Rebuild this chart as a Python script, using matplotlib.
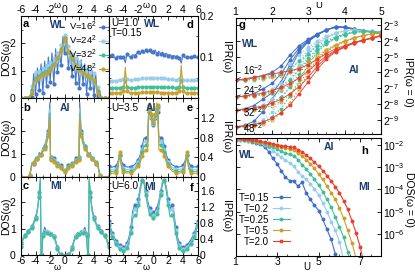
import numpy as np
import matplotlib
matplotlib.use("Agg")
import matplotlib.pyplot as plt
from matplotlib.ticker import (MultipleLocator, FixedLocator, FuncFormatter,
                               LogFormatterMathtext, LogLocator, NullLocator)

plt.rcParams.update({
    "font.family": ["Liberation Sans", "DejaVu Sans"],
    "font.size": 7.5,
    "mathtext.fontset": "custom",
    "mathtext.rm": "Liberation Sans",
    "mathtext.it": "Liberation Sans:italic",
    "mathtext.bf": "Liberation Sans:bold",
    "axes.linewidth": 0.8,
    "xtick.direction": "in",
    "ytick.direction": "in",
    "xtick.major.size": 3,
    "ytick.major.size": 3,
    "xtick.minor.size": 1.5,
    "ytick.minor.size": 1.5,
    "xtick.major.width": 0.6,
    "ytick.major.width": 0.6,
    "xtick.minor.width": 0.5,
    "ytick.minor.width": 0.5,
    "xtick.major.pad": 1.0,
    "ytick.major.pad": 1.5,
    "xtick.labelsize": 7.5,
    "ytick.labelsize": 7.5,
})

# ---------------- data: DOS / IPR vs omega ----------------
w_a = np.arange(-6, 6.01, 0.25)

a_v16 = [0, 0, 0, 0,
         0, 0.1, 0.05, 0.9,
         0.15, 1.1, 0.3, 1.25,
         0.2, 1.35, 0.45, 1.5,
         0.6, 1.65, 0.5, 1.8,
         0.95, 1.7, 1.2, 2.25,
         1.65, 2.3, 1.1, 1.75,
         0.8, 1.6, 0.55, 1.55,
         0.35, 1.4, 0.5, 1.25,
         0.15, 1.15, 0.35, 1.0,
         0.1, 0.85, 0.05, 0.3,
         0, 0, 0, 0,
         0]
a_v24 = [0, 0, 0, 0,
         0, 0.08, 0.45, 0.4,
         0.95, 0.55, 1.0, 0.62,
         1.1, 0.7, 1.2, 0.8,
         1.3, 0.9, 1.45, 1.1,
         1.65, 1.3, 1.95, 1.7,
         2.3, 1.75, 1.9, 1.35,
         1.6, 1.05, 1.45, 0.9,
         1.3, 0.78, 1.15, 0.7,
         1.05, 0.6, 0.95, 0.55,
         0.9, 0.35, 0.4, 0.05,
         0, 0, 0, 0,
         0]
a_v32 = [0, 0, 0, 0,
         0, 0.05, 0.3, 0.6,
         0.72, 0.7, 0.82, 0.78,
         0.9, 0.86, 0.98, 0.95,
         1.1, 1.08, 1.25, 1.3,
         1.45, 1.55, 1.78, 1.88,
         2.2, 1.95, 1.7, 1.62,
         1.42, 1.38, 1.2, 1.15,
         1.02, 1.05, 0.9, 0.92,
         0.8, 0.84, 0.74, 0.76,
         0.64, 0.58, 0.25, 0.04,
         0, 0, 0, 0,
         0]
a_v48 = [0, 0, 0, 0,
         0, 0.02, 0.2, 0.55,
         0.66, 0.72, 0.76, 0.8,
         0.84, 0.88, 0.93, 0.98,
         1.04, 1.1, 1.22, 1.33,
         1.45, 1.58, 1.72, 1.9,
         2.15, 1.9, 1.72, 1.58,
         1.45, 1.33, 1.22, 1.1,
         1.04, 0.98, 0.93, 0.88,
         0.84, 0.8, 0.76, 0.72,
         0.66, 0.55, 0.2, 0.02,
         0, 0, 0, 0,
         0]

w_b = [-6, -5, -4.8, -4.5, -4.25, -4, -3.75, -3.5, -3.25, -3, -2.75, -2.5,
       -2.25, -2.05, -1.95, -1.75, -1.5, -1.25, -1, -0.75, -0.5, -0.25,
       0,
       0.25, 0.5, 0.75, 1, 1.25, 1.5, 1.75, 1.95, 2.05, 2.25, 2.5, 2.75,
       3, 3.25, 3.5, 3.75, 4, 4.25, 4.5, 4.8, 5, 6]
b_v16 = [0, 0, 0.1, 0.62, 0.58, 0.85, 0.78, 1.05, 0.95, 1.25, 1.35, 1.65,
         2.0, 3.2, 0.85, 0.72, 0.8, 0.6, 0.6, 0.55, 0.5, 0.3,
         0.32,
         0.3, 0.5, 0.55, 0.6, 0.6, 0.8, 0.72, 0.85, 3.2, 2.0, 1.65, 1.35,
         1.25, 0.95, 1.05, 0.78, 0.85, 0.58, 0.62, 0.1, 0, 0]
b_v24 = [0, 0, 0.08, 0.58, 0.62, 0.8, 0.8, 0.98, 0.98, 1.2, 1.3, 1.6,
         1.9, 2.95, 0.8, 0.74, 0.74, 0.62, 0.55, 0.58, 0.45, 0.32,
         0.28,
         0.32, 0.45, 0.58, 0.55, 0.62, 0.74, 0.74, 0.8, 2.95, 1.9, 1.6, 1.3,
         1.2, 0.98, 0.98, 0.8, 0.8, 0.62, 0.58, 0.08, 0, 0]
b_v32 = [0, 0, 0.06, 0.55, 0.65, 0.74, 0.82, 0.9, 1.0, 1.12, 1.28, 1.5,
         1.85, 2.75, 0.76, 0.73, 0.7, 0.62, 0.5, 0.56, 0.42, 0.3,
         0.25,
         0.3, 0.42, 0.56, 0.5, 0.62, 0.7, 0.73, 0.76, 2.75, 1.85, 1.5, 1.28,
         1.12, 1.0, 0.9, 0.82, 0.74, 0.65, 0.55, 0.06, 0, 0]
b_v48 = [0, 0, 0.05, 0.5, 0.62, 0.7, 0.78, 0.86, 0.95, 1.08, 1.22, 1.42,
         1.75, 2.55, 0.72, 0.7, 0.66, 0.58, 0.46, 0.52, 0.38, 0.26,
         0.22,
         0.26, 0.38, 0.52, 0.46, 0.58, 0.66, 0.7, 0.72, 2.55, 1.75, 1.42, 1.22,
         1.08, 0.95, 0.86, 0.78, 0.7, 0.62, 0.5, 0.05, 0, 0]

w_c = [-6, -5.75, -5.5, -5.25, -5, -4.75, -4.5, -4.25, -4, -3.75, -3.5, -3.35,
       -3.25, -3.15, -3.0, -2.75, -2.5, -2.25, -2, -1.75, -1.5, -1.25, -1,
       -0.75, -0.5,
       0,
       0.5, 0.75, 1, 1.25, 1.5, 1.75, 2, 2.25, 2.5, 2.75, 3.0, 3.15, 3.25,
       3.35, 3.5, 3.75, 4, 4.25, 4.5, 4.75, 5, 5.25, 5.5, 5.75, 6]
c_v16 = [0.4, 0.62, 0.75, 0.82, 0.92, 1.0, 1.08, 1.25, 1.45, 1.75, 2.2, 2.8,
         0.0, 0.0, 0.8, 1.05, 0.88, 0.92, 0.8, 0.85, 0.72, 0.55, 0.3, 0.1, 0.02,
         0.0,
         0.02, 0.1, 0.3, 0.55, 0.72, 0.85, 0.8, 0.92, 0.88, 1.05, 0.8, 0.0, 0.0,
         2.8, 2.2, 1.75, 1.45, 1.25, 1.08, 1.0, 0.92, 0.82, 0.75, 0.62, 0.4]
c_v24 = [0.35, 0.58, 0.72, 0.8, 0.88, 0.97, 1.05, 1.2, 1.4, 1.7, 2.3, 2.85,
         0.0, 0.0, 0.75, 0.95, 0.9, 0.85, 0.82, 0.8, 0.7, 0.5, 0.25, 0.07, 0.01,
         0.0,
         0.01, 0.07, 0.25, 0.5, 0.7, 0.8, 0.82, 0.85, 0.9, 0.95, 0.75, 0.0, 0.0,
         2.85, 2.3, 1.7, 1.4, 1.2, 1.05, 0.97, 0.88, 0.8, 0.72, 0.58, 0.35]
c_v32 = [0.3, 0.55, 0.7, 0.78, 0.86, 0.95, 1.02, 1.18, 1.38, 1.65, 2.4, 2.9,
         0.0, 0.0, 0.7, 0.9, 0.85, 0.82, 0.8, 0.78, 0.68, 0.48, 0.22, 0.05, 0.0,
         0.0,
         0.0, 0.05, 0.22, 0.48, 0.68, 0.78, 0.8, 0.82, 0.85, 0.9, 0.7, 0.0, 0.0,
         2.9, 2.4, 1.65, 1.38, 1.18, 1.02, 0.95, 0.86, 0.78, 0.7, 0.55, 0.3]

d_v16 = [0.102, 0.098, 0.104, 0.1,
         0.097, 0.103, 0.099, 0.095,
         0.1, 0.086, 0.108, 0.102,
         0.1, 0.106, 0.103, 0.108,
         0.112, 0.106, 0.115, 0.108,
         0.116, 0.11, 0.118, 0.109,
         0.113, 0.117, 0.108, 0.114,
         0.107, 0.112, 0.105, 0.109,
         0.103, 0.106, 0.101, 0.104,
         0.1, 0.103, 0.098, 0.085,
         0.106, 0.098, 0.1, 0.097,
         0.101, 0.099, 0.102, 0.098,
         0.1]
d_v24 = [0.042, 0.043, 0.041, 0.043,
         0.042, 0.044, 0.043, 0.045,
         0.046, 0.056, 0.046, 0.044,
         0.045, 0.044, 0.046, 0.045,
         0.047, 0.046, 0.048, 0.047,
         0.049, 0.048, 0.05, 0.049,
         0.05, 0.049, 0.05, 0.048,
         0.049, 0.047, 0.048, 0.046,
         0.047, 0.045, 0.046, 0.044,
         0.045, 0.044, 0.046, 0.057,
         0.045, 0.043, 0.044, 0.042,
         0.043, 0.042, 0.043, 0.042,
         0.043]
d_v32 = [0.024, 0.025, 0.024, 0.025,
         0.024, 0.025, 0.025, 0.026,
         0.027, 0.042, 0.027, 0.025,
         0.025, 0.026, 0.025, 0.026,
         0.026, 0.027, 0.026, 0.027,
         0.027, 0.028, 0.027, 0.028,
         0.028, 0.027, 0.028, 0.027,
         0.027, 0.026, 0.027, 0.026,
         0.026, 0.025, 0.026, 0.025,
         0.025, 0.026, 0.027, 0.045,
         0.027, 0.025, 0.024, 0.025,
         0.024, 0.025, 0.024, 0.025,
         0.024]
d_v48 = [0.012, 0.012, 0.013, 0.012,
         0.012, 0.013, 0.012, 0.014,
         0.018, 0.075, 0.016, 0.013,
         0.012, 0.013, 0.012, 0.013,
         0.013, 0.013, 0.014, 0.013,
         0.014, 0.014, 0.014, 0.015,
         0.014, 0.015, 0.014, 0.014,
         0.013, 0.014, 0.013, 0.013,
         0.013, 0.012, 0.013, 0.012,
         0.013, 0.012, 0.016, 0.08,
         0.018, 0.013, 0.012, 0.012,
         0.013, 0.012, 0.012, 0.013,
         0.012]

w_e = [-6, -5.5, -5, -4.75, -4.5, -4.25, -4, -3.5, -3, -2.5, -2, -1.75, -1.5,
       -1.25, -1, -0.75, -0.6, -0.45, -0.3, -0.15,
       0,
       0.15, 0.3, 0.45, 0.6, 0.75, 1, 1.25, 1.5, 1.75, 2, 2.5, 3, 3.5, 4,
       4.25, 4.5, 4.75, 5, 5.5, 6]
e_v16 = [0.22, 0.2, 0.22, 0.3, 0.45, 0.32, 0.24, 0.2, 0.21, 0.25, 0.35, 0.45,
         0.62, 0.78, 0.8, 0.82, 1.32, 1.38, 1.2, 1.1,
         1.05,
         1.1, 1.2, 1.38, 1.32, 0.82, 0.8, 0.78, 0.62, 0.45, 0.35, 0.25, 0.21,
         0.2, 0.24, 0.32, 0.45, 0.3, 0.22, 0.2, 0.22]
e_v24 = [0.16, 0.15, 0.17, 0.24, 0.42, 0.26, 0.18, 0.15, 0.16, 0.2, 0.3, 0.4,
         0.55, 0.7, 0.72, 0.74, 1.38, 1.42, 1.22, 1.12,
         1.08,
         1.12, 1.22, 1.42, 1.38, 0.74, 0.72, 0.7, 0.55, 0.4, 0.3, 0.2, 0.16,
         0.15, 0.18, 0.26, 0.42, 0.24, 0.17, 0.15, 0.16]
e_v32 = [0.12, 0.11, 0.13, 0.2, 0.44, 0.22, 0.14, 0.11, 0.12, 0.16, 0.26, 0.35,
         0.5, 0.62, 0.65, 0.66, 1.42, 1.45, 1.25, 1.15,
         1.1,
         1.15, 1.25, 1.45, 1.42, 0.66, 0.65, 0.62, 0.5, 0.35, 0.26, 0.16, 0.12,
         0.11, 0.14, 0.22, 0.44, 0.2, 0.13, 0.11, 0.12]
e_v48 = [0.08, 0.07, 0.09, 0.16, 0.5, 0.18, 0.1, 0.08, 0.09, 0.12, 0.22, 0.3,
         0.42, 0.52, 0.55, 0.55, 1.45, 1.5, 1.28, 1.18,
         1.12,
         1.18, 1.28, 1.5, 1.45, 0.55, 0.55, 0.52, 0.42, 0.3, 0.22, 0.12, 0.09,
         0.08, 0.1, 0.18, 0.5, 0.16, 0.09, 0.07, 0.08]

f_v16 = [0.85, 0.7, 0.55, 0.45,
         0.36, 0.3, 0.25, 0.21,
         0.2, 0.22, 0.3, 0.45,
         0.7, 1.1, 1.25, 1.15,
         1.4, 1.7, 1.88, 1.85,
         1.6, 1.35, 1.18, 1.1,
         1.07, 1.1, 1.18, 1.35,
         1.6, 1.85, 1.88, 1.7,
         1.4, 1.15, 1.25, 1.1,
         0.7, 0.45, 0.3, 0.22,
         0.2, 0.21, 0.25, 0.3,
         0.36, 0.45, 0.55, 0.7,
         0.85]
f_v24 = [0.8, 0.64, 0.5, 0.4,
         0.31, 0.25, 0.2, 0.16,
         0.15, 0.17, 0.24, 0.38,
         0.62, 1.0, 1.15, 1.08,
         1.32, 1.65, 1.86, 1.82,
         1.55, 1.28, 1.1, 1.02,
         0.99, 1.02, 1.1, 1.28,
         1.55, 1.82, 1.86, 1.65,
         1.32, 1.08, 1.15, 1.0,
         0.62, 0.38, 0.24, 0.17,
         0.15, 0.16, 0.2, 0.25,
         0.31, 0.4, 0.5, 0.64,
         0.8]
f_v32 = [0.75, 0.6, 0.46, 0.36,
         0.27, 0.2, 0.15, 0.11,
         0.09, 0.11, 0.18, 0.32,
         0.56, 0.9, 1.0, 0.95,
         1.25, 1.6, 1.84, 1.8,
         1.5, 1.22, 1.03, 0.95,
         0.92, 0.95, 1.03, 1.22,
         1.5, 1.8, 1.84, 1.6,
         1.25, 0.95, 1.0, 0.9,
         0.56, 0.32, 0.18, 0.11,
         0.09, 0.11, 0.15, 0.2,
         0.27, 0.36, 0.46, 0.6,
         0.75]

v_labels = ["V=16$^2$", "V=24$^2$", "V=32$^2$", "V=48$^2$"]

# ---------------- data: IPR(w=0) vs U (log2 values) ----------------
u_g = [1.0, 1.25, 1.5, 1.75, 2.0, 2.25, 2.5, 2.75, 3.0, 3.25, 3.5, 3.75,
       4.0, 4.25, 4.5, 4.75, 5.0]
g015_16 = [-6.5, -6.45, -6.35, -6.2, -6.0, -5.6, -4.9, -4.3, -3.9, -3.55, -3.3, -3.15, -3.15, -3.25, -3.35, -3.4, -3.45]
g015_24 = [-7.55, -7.5, -7.35, -7.05, -6.7, -6.1, -5.2, -4.45, -3.95, -3.6, -3.3, -3.12, -3.15, -3.25, -3.35, -3.42, -3.5]
g015_32 = [-8.4, -8.3, -8.1, -7.7, -7.3, -6.6, -5.5, -4.6, -4.0, -3.6, -3.3, -3.1, -3.15, -3.25, -3.35, -3.45, -3.5]
g015_48 = [-9.45, -9.35, -9.1, -8.5, -7.7, -6.9, -5.8, -4.7, -4.05, -3.62, -3.32, -3.1, -3.12, -3.22, -3.35, -3.45, -3.55]
g02_16 = [-6.5, -6.45, -6.4, -6.3, -6.15, -5.9, -5.45, -4.9, -4.4, -4.0, -3.7, -3.5, -3.35, -3.3, -3.35, -3.4, -3.45]
g02_24 = [-7.55, -7.5, -7.45, -7.3, -7.05, -6.65, -6.0, -5.2, -4.6, -4.1, -3.75, -3.5, -3.35, -3.3, -3.35, -3.42, -3.5]
g02_32 = [-8.4, -8.35, -8.25, -8.05, -7.7, -7.2, -6.4, -5.5, -4.75, -4.2, -3.8, -3.52, -3.35, -3.3, -3.35, -3.42, -3.5]
g02_48 = [-9.45, -9.4, -9.25, -9.0, -8.5, -7.8, -6.8, -5.7, -4.85, -4.25, -3.82, -3.53, -3.36, -3.3, -3.36, -3.45, -3.52]
g025_16 = [-6.5, -6.47, -6.42, -6.35, -6.25, -6.05, -5.75, -5.3, -4.8, -4.35, -4.0, -3.75, -3.55, -3.45, -3.4, -3.42, -3.45]
g025_24 = [-7.55, -7.52, -7.48, -7.38, -7.2, -6.9, -6.45, -5.8, -5.1, -4.5, -4.1, -3.8, -3.58, -3.45, -3.4, -3.42, -3.48]
g025_32 = [-8.4, -8.38, -8.32, -8.2, -7.95, -7.55, -6.95, -6.1, -5.3, -4.6, -4.15, -3.82, -3.6, -3.46, -3.4, -3.43, -3.5]
g025_48 = [-9.45, -9.42, -9.35, -9.15, -8.8, -8.3, -7.5, -6.5, -5.5, -4.7, -4.2, -3.85, -3.6, -3.46, -3.4, -3.44, -3.5]
g05_16 = [-6.5, -6.48, -6.45, -6.4, -6.32, -6.2, -6.0, -5.7, -5.3, -4.9, -4.55, -4.25, -4.0, -3.8, -3.65, -3.55, -3.5]
g05_24 = [-7.55, -7.53, -7.5, -7.42, -7.3, -7.1, -6.8, -6.3, -5.65, -5.05, -4.6, -4.28, -4.02, -3.82, -3.67, -3.56, -3.5]
g05_32 = [-8.4, -8.38, -8.35, -8.27, -8.1, -7.85, -7.4, -6.75, -5.9, -5.15, -4.65, -4.3, -4.03, -3.83, -3.67, -3.56, -3.5]
g05_48 = [-9.45, -9.43, -9.38, -9.25, -9.0, -8.6, -7.95, -7.05, -6.05, -5.25, -4.7, -4.32, -4.05, -3.84, -3.68, -3.57, -3.5]
g2_16 = [-6.5, -6.4, -6.3, -6.2, -6.1, -6.0, -5.9, -5.75, -5.5, -5.15, -4.8, -4.5, -4.3, -4.1, -3.95, -3.8, -3.65]
g2_24 = [-7.55, -7.5, -7.4, -7.3, -7.15, -6.95, -6.7, -6.35, -5.9, -5.4, -4.95, -4.6, -4.35, -4.12, -3.96, -3.82, -3.67]
g2_32 = [-8.4, -8.35, -8.25, -8.12, -7.95, -7.7, -7.35, -6.9, -6.3, -5.6, -5.05, -4.65, -4.38, -4.14, -3.97, -3.82, -3.68]
g2_48 = [-9.45, -9.4, -9.3, -9.15, -8.9, -8.55, -8.05, -7.35, -6.6, -5.8, -5.15, -4.7, -4.4, -4.15, -3.98, -3.83, -3.7]

# ---------------- data: DOS(w=0) vs U (log10 values) ----------------
u_h = [1.0, 1.2, 1.4, 1.6, 1.8, 2.0, 2.2, 2.4, 2.6, 2.8, 3.0, 3.2, 3.4, 3.6,
       3.8, 4.0, 4.2, 4.4, 4.6, 4.8, 5.0, 5.2, 5.4, 5.6, 5.8, 6.0, 6.2, 6.4,
       6.6, 6.8, 7.0, 7.2]
h_t015 = [-1.75, -1.77, -1.79, -1.82, -1.85, -1.9, -1.97, -2.08, -2.3, -2.6, -2.85, -3.15, -3.45,
          -3.6, -3.62, -3.85, -3.68, -4.15, -4.45, -4.72, -4.95, -5.35, -5.8, -6.25, -6.9, -7.6]
h_t02 = [-1.73, -1.75, -1.77, -1.8, -1.83, -1.87, -1.92, -1.98, -2.1, -2.25, -2.4, -2.55, -2.68,
         -2.8, -2.95, -3.2, -3.4, -3.55, -3.75, -3.98, -4.25, -4.6, -5.0, -5.45, -5.85, -6.35, -7.2]
h_t025 = [-1.72, -1.74, -1.76, -1.79, -1.82, -1.85, -1.89, -1.94, -2.02, -2.1, -2.18, -2.28, -2.36,
          -2.42, -2.48, -2.65, -2.88, -3.08, -3.3, -3.55, -3.8, -4.1, -4.45, -4.8, -5.25, -5.7,
          -6.15, -6.8, -7.6]
h_t05 = [-1.7, -1.72, -1.74, -1.76, -1.79, -1.82, -1.86, -1.9, -1.95, -2.0, -2.05, -2.1, -2.14,
         -2.18, -2.22, -2.35, -2.5, -2.65, -2.85, -3.05, -3.3, -3.55, -3.85, -4.15, -4.45, -4.85,
         -5.3, -5.85, -6.4, -7.1, -7.8]
h_t2 = [-1.68, -1.7, -1.72, -1.74, -1.76, -1.79, -1.83, -1.87, -1.9, -1.94, -1.98, -2.02, -2.05,
        -2.08, -2.1, -2.2, -2.3, -2.45, -2.6, -2.78, -2.95, -3.15, -3.38, -3.62, -3.88, -4.15,
        -4.5, -4.9, -5.4, -5.95, -6.6, -7.4]
t_labels = ["T=0.15", "T=0.2", "T=0.25", "T=0.5", "T=2.0"]

v_cols = ["#4477cc", "#98ccee", "#3fbf99", "#c9a02a"]
t_cols = ["#3f6fc4", "#98ccee", "#3fbf99", "#c9a02a", "#e8402c"]
navy = "#1d3d6e"

W, H = 415, 272
fig = plt.figure(figsize=(W / 100, H / 100), dpi=100)


def box(x0, y0, x1, y1):
    return fig.add_axes([x0 / W, 1 - y1 / H, (x1 - x0) / W, (y1 - y0) / H])


def put(x, y, s, **kw):
    fig.text(x / W, 1 - y / H, s, **kw)


rows = [(16, 98), (98, 177), (177, 255)]
colL = (21, 108.5)
colR = (108.5, 198)

dos_sets = [(w_a, [a_v16, a_v24, a_v32, a_v48], 3.0),
            (w_b, [b_v16, b_v24, b_v32, b_v48], 3.4),
            (w_c, [c_v16, c_v24, c_v32], 2.95)]
ipr_sets = [(w_a, [d_v16, d_v24, d_v32, d_v48], 0.2, [0, 0.1, 0.2], ["", "0.1", "0.2"], 0.05),
            (w_e, [e_v16, e_v24, e_v32, e_v48], 1.6, [0, 0.4, 0.8, 1.2, 1.6], ["0", "0.4", "0.8", "1.2", ""], 0.2),
            (w_a, [f_v16, f_v24, f_v32], 1.95, [0, 0.4, 0.8, 1.2, 1.6], ["0", "0.4", "0.8", "1.2", "1.6"], 0.2)]


def omega_axis(ax, i, right):
    ax.set_xlim(-6, 6)
    ax.xaxis.set_major_locator(MultipleLocator(2))
    ax.xaxis.set_minor_locator(MultipleLocator(1))
    if right:
        ax.xaxis.set_major_formatter(FuncFormatter(lambda v, p: "%d" % round(v)))
    else:
        ax.xaxis.set_major_formatter(FuncFormatter(lambda v, p: "" if v > 5 else "%d" % round(v)))
    ax.tick_params(which="both", top=True, bottom=True, left=True, right=True,
                   labeltop=(i == 0), labelbottom=(i == 2),
                   labelleft=not right, labelright=right)


for i, (w, series, top) in enumerate(dos_sets):
    ax = box(colL[0], rows[i][0], colL[1], rows[i][1])
    for k, ys in enumerate(series):
        ax.plot(w, ys, "-o", color=v_cols[k], lw=0.8, ms=2, markevery=2, label=v_labels[k])
    ax.set_ylim(0, top)
    ax.yaxis.set_major_locator(FixedLocator([0, 1, 2]))
    ax.yaxis.set_minor_locator(MultipleLocator(0.5))
    omega_axis(ax, i, False)
    ax.tick_params(axis="y", which="major", pad=3.8)
    ax.text(-0.17, 0.5, "DOS(ω)", transform=ax.transAxes, rotation=90, ha="center", va="center")
    if i == 0:
        ax.legend(loc="upper right", bbox_to_anchor=(1.0, 0.97), frameon=False, markerfirst=False,
                  fontsize=6.8, handlelength=0.9, handletextpad=0.25, labelspacing=0.1,
                  borderaxespad=0.05, borderpad=0.05)

for i, (w, series, top, ticks, tlabs, minor) in enumerate(ipr_sets):
    ax = box(colR[0], rows[i][0], colR[1], rows[i][1])
    for k, ys in enumerate(series):
        ax.plot(w, ys, "-o", color=v_cols[k], lw=0.8, ms=2, markevery=2)
    ax.set_ylim(0, top)
    ax.yaxis.set_major_locator(FixedLocator(ticks))
    ax.yaxis.set_major_formatter(FuncFormatter(lambda v, p, l=tlabs: l[p] if p is not None and p < len(l) else ""))
    ax.yaxis.set_minor_locator(MultipleLocator(minor))
    omega_axis(ax, i, True)
    ax.text(1.31, 0.5, "IPR(ω)", transform=ax.transAxes, rotation=270, ha="center", va="center")

# omega labels, set in the gaps between tick labels
put(57.5, 0.5, "ω", ha="center", va="top", fontsize=6.5)
put(146, 0.5, "ω", ha="center", va="top", fontsize=6.5)
put(57.5, 271.5, "ω", ha="center", va="bottom", fontsize=6.5)
put(146, 271.5, "ω", ha="center", va="bottom", fontsize=6.5)

# panel annotations (left block)
bold = dict(fontweight="bold", fontsize=8, va="center")
put(23, 24, "a", ha="left", **bold)
put(23, 108, "b", ha="left", **bold)
put(23, 186, "c", ha="left", **bold)
put(193, 25, "d", ha="right", **bold)
put(193, 108, "e", ha="right", **bold)
put(193, 188, "f", ha="right", **bold)
nv = dict(color=navy, fontweight="bold", fontsize=7.5, ha="center", va="center")
put(58, 25, "WL", **nv)
put(64.5, 108, "AI", **nv)
put(56, 186, "MI", **nv)
put(152, 24, "WL", **nv)
put(151, 108, "AI", **nv)
put(150, 187, "MI", **nv)
put(111, 18, "U=1.0\nT=0.15", ha="left", va="top", linespacing=0.95, fontsize=7.2)
put(111, 108, "U=3.5", ha="left", va="center", fontsize=7.2)
put(111, 186, "U=6.0", ha="left", va="center", fontsize=7.2)

# ---------------- panel g ----------------
ax_g = box(235.5, 18, 381, 134)
g_groups = [
    ([g015_16, g015_24, g015_32, g015_48], t_cols[0], "-", "o", t_cols[0], 0.7),
    ([g02_16, g02_24, g02_32, g02_48], t_cols[1], ":", "o", t_cols[1], 0.9),
    ([g025_16, g025_24, g025_32, g025_48], t_cols[2], ":", "o", t_cols[2], 0.9),
    ([g05_16, g05_24, g05_32, g05_48], t_cols[3], ":", "o", "none", 0.9),
    ([g2_16, g2_24, g2_32, g2_48], t_cols[4], "-", "o", t_cols[4], 0.6),
]
for curves, col, ls, mk, mfc, lw in g_groups:
    for ys in curves:
        ax_g.plot(u_g, 2.0 ** np.array(ys), ls=ls, marker=mk, color=col, mfc=mfc,
                  mew=0.6, lw=lw, ms=2.2)
ax_g.set_yscale("log", base=2)
ax_g.set_xlim(1, 5)
ax_g.set_ylim(2 ** -9.9, 2 ** -2.55)
ax_g.xaxis.set_major_locator(MultipleLocator(1))
ax_g.xaxis.set_minor_locator(MultipleLocator(0.25))
ax_g.yaxis.set_major_locator(LogLocator(base=2, numticks=20))
ax_g.yaxis.set_major_formatter(LogFormatterMathtext(base=2))
ax_g.yaxis.set_minor_locator(NullLocator())
ax_g.tick_params(which="both", top=True, bottom=True, left=True, right=True,
                 labeltop=True, labelbottom=False, labelleft=False, labelright=True)
ax_g.text(1.189, 0.453, "IPR(ω = 0)", transform=ax_g.transAxes, rotation=270,
          ha="center", va="center")
ann = dict(arrowprops=dict(arrowstyle="-", lw=0.5, color="k", shrinkA=0, shrinkB=0),
           fontsize=7, ha="left", va="center")
ax_g.annotate("$16^{-2}$", xy=(u_g[0], 2.0 ** g2_16[0]), xytext=(1.21, 2 ** -5.85), **ann)
ax_g.annotate("$24^{-2}$", xy=(u_g[0], 2.0 ** g2_24[0]), xytext=(1.21, 2 ** -7.1), **ann)
ax_g.annotate("$32^{-2}$", xy=(u_g[0], 2.0 ** g2_32[0]), xytext=(1.21, 2 ** -8.5), **ann)
ax_g.annotate("$48^{-2}$", xy=(u_g[0], 2.0 ** g2_48[0]), xytext=(1.21, 2 ** -9.5), **ann)
put(318.5, 0.5, "U", ha="center", va="top", fontsize=6.8)
put(238, 25, "g", ha="left", **bold)
put(250, 44, "WL", **nv)
put(354, 70, "AI", **nv)

# ---------------- panel h ----------------
ax_h = box(235.5, 138, 381, 256)
for ys, col, lab in zip([h_t015, h_t02, h_t025, h_t05, h_t2], t_cols, t_labels):
    ax_h.plot(u_h[:len(ys)], 10.0 ** np.array(ys), "-o", color=col, lw=0.8, ms=1.8, label=lab)
ax_h.set_yscale("log")
ax_h.set_xlim(1, 8)
ax_h.set_ylim(1e-7, 10 ** -1.68)
ax_h.xaxis.set_major_locator(FixedLocator([1, 3, 5, 7]))
ax_h.xaxis.set_minor_locator(MultipleLocator(0.5))
ax_h.yaxis.set_major_locator(FixedLocator([1e-6, 1e-5, 1e-4, 1e-3, 1e-2]))
ax_h.yaxis.set_major_formatter(LogFormatterMathtext())
ax_h.yaxis.set_minor_locator(NullLocator())
ax_h.tick_params(which="both", top=True, bottom=True, left=True, right=True,
                 labeltop=False, labelbottom=True, labelleft=False, labelright=True)
ax_h.text(1.19, 0.48, "DOS(ω = 0)", transform=ax_h.transAxes, rotation=270,
          ha="center", va="center")
ax_h.legend(loc="lower left", bbox_to_anchor=(0.02, 0.08), frameon=False, markerfirst=False,
            fontsize=7, handlelength=1.8, handletextpad=0.4, labelspacing=0.1,
            borderaxespad=0, borderpad=0)
put(307, 271.5, "U", ha="center", va="bottom", fontsize=7)
put(365, 151, "h", ha="center", **bold)
put(247, 155, "WL", **nv)
put(329, 147, "AI", **nv)
put(364, 187, "MI", **nv)

fig.savefig("out.png", dpi=100)
